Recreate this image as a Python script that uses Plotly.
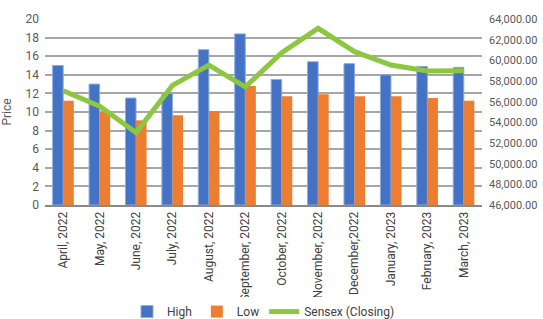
import plotly.graph_objects as go

months = ["April, 2022", "May, 2022", "June, 2022", "July, 2022", "August, 2022",
          "September, 2022", "October, 2022", "November, 2022", "December,2022",
          "January, 2023", "February, 2023", "March, 2023"]
high = [15.0, 13.0, 11.5, 12.0, 16.7, 18.4, 13.5, 15.4, 15.2, 14.0, 14.9, 14.8]
low = [11.2, 10.0, 9.1, 9.65, 10.1, 12.8, 11.7, 11.9, 11.7, 11.7, 11.5, 11.2]
sensex = [57060, 55566, 53019, 57570, 59537, 57427, 60747, 63099, 60840, 59550, 58962, 58992]

left_ticks = list(range(0, 21, 2))
right_ticks = list(range(46000, 64001, 2000))

font = dict(family="Roboto, DejaVu Sans, sans-serif", size=11, color="#595959")

fig = go.Figure()
fig.add_trace(go.Bar(x=months, y=high, name="High",
                     marker=dict(color="#4472C4", line=dict(color="#8FAADC", width=1))))
fig.add_trace(go.Bar(x=months, y=low, name="Low",
                     marker=dict(color="#ED7D31", line=dict(width=0))))
fig.add_trace(go.Scatter(x=months, y=sensex, name="Sensex (Closing)", yaxis="y2",
                         mode="lines", line=dict(color="#8DC63F", width=5)))

fig.update_layout(
    width=543, height=319,
    margin=dict(l=45, r=61, t=19, b=114, autoexpand=False),
    paper_bgcolor="white", plot_bgcolor="white",
    font=font,
    barmode="group", bargap=0.42, bargroupgap=0,
    showlegend=True,
    legend=dict(orientation="h", x=0.5, xanchor="center", y=-0.495, yanchor="top",
                font=dict(size=12, color="#404040"), tracegroupgap=0),
    xaxis=dict(tickangle=-90, showgrid=False, showline=True, linecolor="#898989",
               linewidth=2, ticks="", automargin=False,
               tickfont=dict(size=12, color="#404040")),
    yaxis=dict(range=[0, 20], tickvals=left_ticks, showgrid=True, gridcolor="#A6A6A6",
               gridwidth=1.5, zeroline=False, showline=False, ticks="", automargin=False,
               ticklabelstandoff=5,
               title=dict(text="Price", font=dict(size=12, color="#595959")),
               tickfont=dict(size=12, color="#595959")),
    yaxis2=dict(range=[46000, 64000], tickvals=right_ticks, tickformat=",.2f",
                overlaying="y", side="right", showgrid=False, zeroline=False,
                showline=False, ticks="", automargin=False, ticklabelstandoff=6,
                tickfont=dict(size=11, color="#595959")),
)

fig.write_html("out.html", config={"displayModeBar": False},
               post_script="document.body.style.margin='0px';document.body.style.overflow='hidden';")
